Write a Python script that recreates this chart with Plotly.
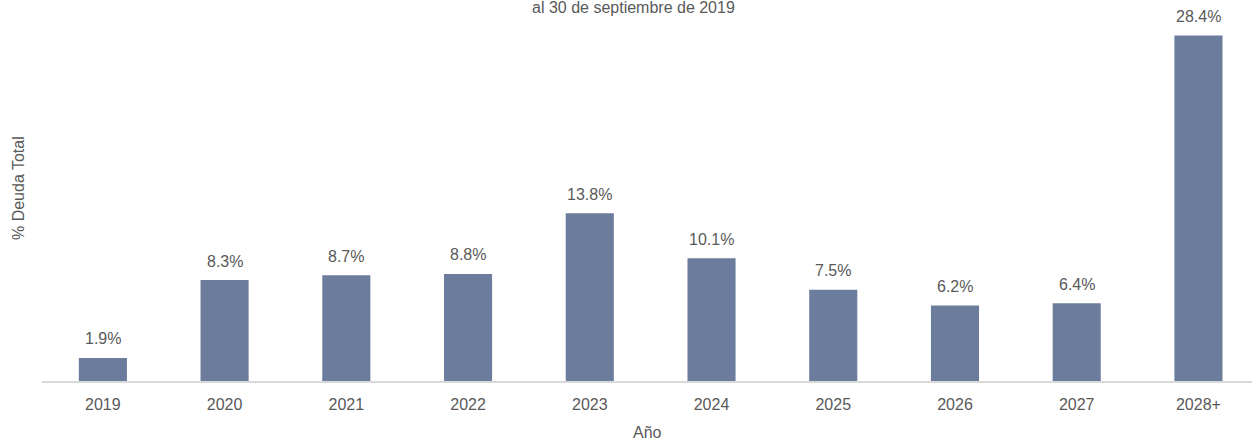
import plotly.graph_objects as go

years = ["2019", "2020", "2021", "2022", "2023", "2024", "2025", "2026", "2027", "2028+"]
values = [1.9, 8.3, 8.7, 8.8, 13.8, 10.1, 7.5, 6.2, 6.4, 28.4]
labels = [f"{v:.1f}%" for v in values]

font_family = "Liberation Sans, Arial, sans-serif"
grey = "#595959"

fig = go.Figure(go.Bar(
    x=years, y=values,
    marker=dict(color="#6b7c9d", line=dict(width=0)),
    width=0.395,
))

ann = [dict(x=i, y=v, xref="x", yref="y", text=t, showarrow=False,
            xanchor="center", yanchor="middle",
            yshift=19, font=dict(size=16, color=grey))
       for i, (v, t) in enumerate(zip(values, labels))]

ann += [
    dict(text="% Deuda Total", textangle=-90, xref="paper", yref="paper",
         x=(18 - 42) / 1210, y=(381 - 188) / 371, showarrow=False,
         xanchor="center", yanchor="middle", font=dict(size=16, color=grey)),
    dict(text="al 30 de septiembre de 2019", xref="paper", yref="paper",
         x=(633 - 42) / 1210, y=(381 - 8) / 371, showarrow=False,
         xanchor="center", yanchor="middle", font=dict(size=16, color=grey)),
    dict(text="Año", xref="paper", yref="paper",
         x=(647 - 42) / 1210, y=(381 - 432) / 371, showarrow=False,
         xanchor="center", yanchor="middle", font=dict(size=16, color=grey)),
]

fig.update_layout(
    width=1252, height=440,
    margin=dict(l=42, r=0, t=10, b=59),
    paper_bgcolor="white", plot_bgcolor="white",
    showlegend=False,
    font=dict(family=font_family, color=grey, size=16),
    xaxis=dict(type="category", range=[-0.5, 9.44], showline=True, linecolor="#d9d9d9",
               linewidth=1.5, ticks="", tickfont=dict(size=16, color=grey),
               showgrid=False, ticklabelstandoff=8),
    yaxis=dict(range=[0, 30.5], visible=False, showgrid=False),
    annotations=ann,
)

fig.write_html("out.html")
